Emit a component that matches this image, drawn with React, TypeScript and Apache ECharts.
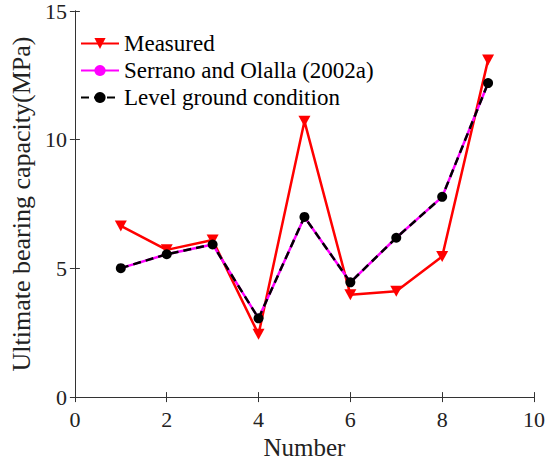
import React, { useEffect, useRef } from "react";
import * as echarts from "echarts";

const numbers = [1, 2, 3, 4, 5, 6, 7, 8, 9];
const measured = [6.65, 5.72, 6.1, 2.44, 10.72, 3.98, 4.11, 5.46, 13.1];
const serrano = [5.01, 5.55, 5.93, 3.06, 7.0, 4.46, 6.19, 7.78, 12.2];
const levelGround = [5.01, 5.55, 5.93, 3.06, 7.0, 4.46, 6.19, 7.78, 12.2];

const FONT = '"Liberation Serif", "Times New Roman", serif';
const AXIS_COLOR = "#333333";

function pairs(xs: number[], ys: number[]) {
  return xs.map((x, i) => [x, ys[i]]);
}

export default function App() {
  const ref = useRef<HTMLDivElement>(null);
  useEffect(() => {
    document.body.style.margin = "0";
    if (!ref.current) return;
    const chart = echarts.init(ref.current, undefined, { renderer: "svg" });
    const axisLine = { show: true, lineStyle: { color: AXIS_COLOR, width: 1 } };
    const tick = { show: true, inside: true, length: 5, lineStyle: { color: AXIS_COLOR } };
    chart.setOption({
      animation: false,
      backgroundColor: "#ffffff",
      textStyle: { fontFamily: FONT },
      grid: { left: 63, right: 16, top: 11, bottom: 65, containLabel: false },
      legend: {
        orient: "vertical",
        left: 80,
        top: 32,
        padding: 0,
        itemWidth: 38,
        itemHeight: 14,
        itemGap: 4,
        textStyle: { fontFamily: FONT, fontSize: 23, color: "#000" },
        data: ["Measured", "Serrano and Olalla (2002a)", "Level ground condition"],
      },
      xAxis: [
        {
          type: "value",
          min: 0,
          max: 10,
          interval: 2,
          position: "bottom",
          axisLine,
          axisTick: tick,
          splitLine: { show: false },
          axisLabel: { fontFamily: FONT, fontSize: 22, color: "#222", margin: 11 },
          name: "Number",
          nameLocation: "middle",
          nameGap: 30,
          nameTextStyle: { fontFamily: FONT, fontSize: 25, color: "#222" },
        },
        {
          type: "value",
          min: 0,
          max: 10,
          interval: 2,
          position: "top",
          axisLine,
          axisTick: tick,
          splitLine: { show: false },
          axisLabel: { show: false },
        },
      ],
      yAxis: [
        {
          type: "value",
          min: 0,
          max: 15,
          interval: 5,
          position: "left",
          axisLine,
          axisTick: tick,
          splitLine: { show: false },
          axisLabel: { fontFamily: FONT, fontSize: 22, color: "#222", margin: 8 },
          name: "Ultimate bearing capacity(MPa)",
          nameLocation: "middle",
          nameGap: 40,
          nameTextStyle: { fontFamily: FONT, fontSize: 26, color: "#222" },
        },
        {
          type: "value",
          min: 0,
          max: 15,
          interval: 5,
          position: "right",
          axisLine,
          axisTick: tick,
          splitLine: { show: false },
          axisLabel: { show: false },
        },
      ],
      series: [
        {
          name: "Measured",
          type: "line",
          data: pairs(numbers, measured),
          symbol: "triangle",
          symbolRotate: 180,
          symbolSize: [12, 11],
          lineStyle: { color: "#ff0000", width: 2.5 },
          itemStyle: { color: "#ff0000" },
        },
        {
          name: "Serrano and Olalla (2002a)",
          type: "line",
          data: pairs(numbers, serrano),
          symbol: "circle",
          symbolSize: 6,
          lineStyle: { color: "#ff00ff", width: 2.5 },
          itemStyle: { color: "#ff00ff" },
        },
        {
          name: "Level ground condition",
          type: "line",
          data: pairs(numbers, levelGround),
          symbol: "circle",
          symbolSize: 10,
          lineStyle: { color: "#000000", width: 2.5, type: [8, 5] },
          itemStyle: { color: "#000000" },
        },
      ],
    });
    return () => chart.dispose();
  }, []);
  return <div ref={ref} style={{ width: 550, height: 465 }} />;
}
